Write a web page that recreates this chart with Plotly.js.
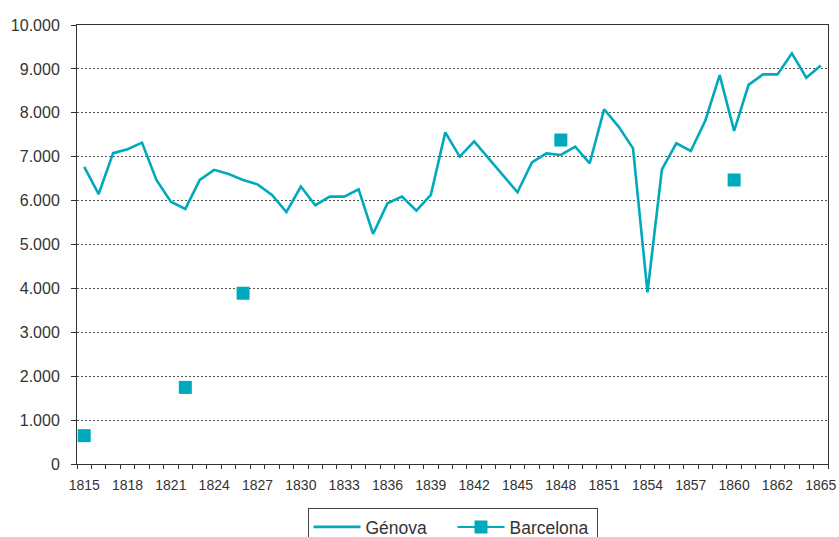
<!DOCTYPE html>
<html>
<head>
<meta charset="utf-8">
<script src="https://cdn.plot.ly/plotly-3.0.1.min.js"></script>
<style>html,body{margin:0;padding:0;background:#fff;}#chart{width:839px;height:537px;}</style>
</head>
<body>
<div id="chart"></div>
<script>
// Category labels (52 categories; 1861 appears twice in the source axis)
const years = [
  "1815","1816","1817","1818","1819","1820","1821","1822","1823","1824",
  "1825","1826","1827","1828","1829","1830","1831","1832","1833","1834",
  "1835","1836","1837","1838","1839","1840","1841","1842","1843","1844",
  "1845","1846","1847","1848","1849","1850","1851","1852","1853","1854",
  "1855","1856","1857","1858","1859","1860","1861","1861","1862","1863",
  "1864","1865"
];
const genova = [
  6770, 6150, 7080, 7170, 7320, 6470, 5975, 5810, 6470, 6700,
  6605, 6470, 6370, 6130, 5740, 6320, 5895, 6090, 6090, 6255,
  5240, 5940, 6090, 5770, 6130, 7555, 7000, 7350, 6960, 6575,
  6190, 6870, 7075, 7040, 7230, 6850, 8080, 7685, 7190, 3910,
  6710, 7305, 7130, 7820, 8860, 7590, 8635, 8875, 8875, 9355,
  8800, 9075
];
const barcelonaYears = ["1815", "1822", "1826", "1848", "1860"];
const barcelona = [645, 1745, 3890, 7380, 6470];

const idx = years.map((_, i) => i);
const bFull = idx.map(i => {
  const k = barcelonaYears.indexOf(years[i]);
  return k >= 0 ? barcelona[k] : null;
});
const tickIdx = idx.filter(i => i % 3 === 0);
const tickLabels = tickIdx.map(i => years[i]);

const teal = "#00a9bb";
const txt = "#333333";
const font = {family: "Liberation Sans, Arial, sans-serif", color: txt};

const data = [
  {x: idx, y: genova, name: "Génova", type: "scatter", mode: "lines",
   line: {color: teal, width: 2.6}},
  {x: idx, y: bFull, name: "Barcelona", type: "scatter", mode: "lines+markers",
   connectgaps: false,
   line: {color: teal, width: 2},
   marker: {color: teal, symbol: "square", size: 13, line: {width: 0}}}
];

const layout = {
  width: 839, height: 537,
  margin: {l: 77, r: 11, t: 25, b: 73},
  paper_bgcolor: "#fff", plot_bgcolor: "#fff",
  separators: ",.",
  font: Object.assign({size: 13}, font),
  showlegend: true,
  legend: {orientation: "h", xref: "paper", x: 0.5, xanchor: "center",
    yref: "container", y: 0.054, yanchor: "top",
    itemwidth: 47, entrywidth: 82,
    bordercolor: "#444", borderwidth: 1, font: Object.assign({size: 17.5}, font),
    traceorder: "normal"},
  xaxis: {
    range: [-0.5, years.length - 0.5],
    tickvals: tickIdx, ticktext: tickLabels,
    ticks: "outside", ticklen: 0,
    ticklabelstandoff: 8,
    minor: {tickvals: idx.concat([idx.length]).map(i => i - 0.5), ticks: "outside", ticklen: 4, tickcolor: "#333", tickwidth: 1},
    showgrid: false, zeroline: false,
    showline: true, linecolor: "#333", linewidth: 1, mirror: true,
    tickfont: Object.assign({size: 14}, font),
    fixedrange: true
  },
  yaxis: {
    range: [0, 10000], dtick: 1000, tick0: 0,
    tickformat: ",.0f",
    ticks: "outside", ticklen: 5, tickcolor: "#333",
    ticklabelstandoff: 8,
    showgrid: true, gridcolor: "#555", griddash: "2px,2px", gridwidth: 1,
    zeroline: false,
    showline: true, linecolor: "#333", linewidth: 1, mirror: true,
    tickfont: Object.assign({size: 16}, font),
    fixedrange: true
  }
};

Plotly.newPlot("chart", data, layout, {displayModeBar: false, staticPlot: true});
</script>
</body>
</html>
